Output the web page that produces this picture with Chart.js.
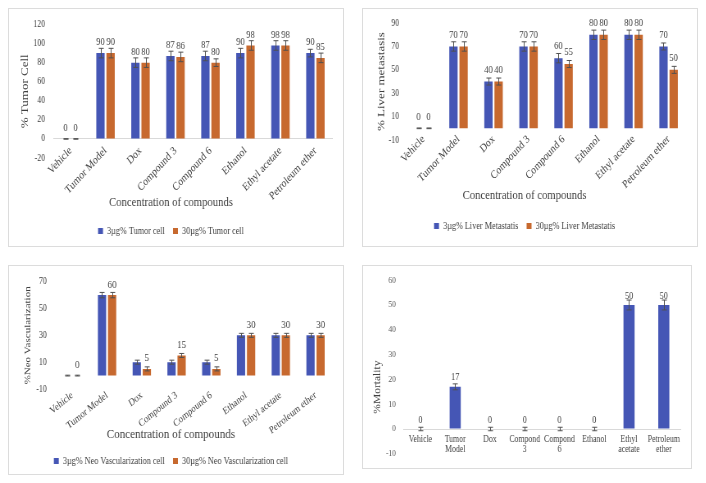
<!DOCTYPE html>
<html>
<head>
<meta charset="utf-8">
<script src="https://cdn.jsdelivr.net/npm/chart.js@4.4.1/dist/chart.umd.min.js"></script>
<style>
  body { margin: 0; background: #fff; width: 706px; height: 483px; position: relative; overflow: hidden; }
  .panel { position: absolute; box-sizing: border-box; border: 1px solid #dcdcdc; background: #fff; overflow: hidden; }
  .panel canvas { position: absolute; left: 0; top: 0; transform-origin: 0 0; transform: scaleX(0.82); }
</style>
</head>
<body>
<div class="panel" style="left:8px;top:8px;width:336px;height:239px"><canvas id="tumorChart" width="407" height="237" style="width:407px;height:237px"></canvas></div>
<div class="panel" style="left:362px;top:8px;width:336px;height:239px"><canvas id="liverChart" width="407" height="237" style="width:407px;height:237px"></canvas></div>
<div class="panel" style="left:8px;top:265px;width:336px;height:210px"><canvas id="neoChart" width="407" height="208" style="width:407px;height:208px"></canvas></div>
<div class="panel" style="left:362px;top:265px;width:330px;height:204px"><canvas id="mortalityChart" width="400" height="202" style="width:400px;height:202px"></canvas></div>
<script>
const categories = ['Vehicle', 'Tumor Model', 'Dox', 'Compound 3', 'Compound 6', 'Ethanol', 'Ethyl acetate', 'Petroleum ether'];
const mortalityCategories = ['Vehicle', ['Tumor', 'Model'], 'Dox', ['Compond', '3'], ['Compond', '6'], 'Ethanol', ['Ethyl', 'acetate'], ['Petroleum', 'ether']];

const tumor3 = [0, 90, 80, 87, 87, 90, 98, 90];
const tumor30 = [0, 90, 80, 86, 80, 98, 98, 85];
const tumor3Err = [0.3, 5, 5, 5, 5, 5, 5, 4];
const tumor30Err = [0.3, 5, 5, 5, 4, 5, 5, 5];

const liver3 = [0, 70, 40, 70, 60, 80, 80, 70];
const liver30 = [0, 70, 40, 70, 55, 80, 80, 50];
const liver3Err = [0.3, 4, 3, 4, 4, 4, 4, 3];
const liver30Err = [0.3, 4, 3, 4, 3, 4, 4, 3];

const neo3 = [0, 60, 10, 10, 10, 30, 30, 30];
const neo30 = [0, 60, 5, 15, 5, 30, 30, 30];
const neo3Err = [0.3, 2, 1.5, 1.5, 1.5, 1.5, 1.5, 1.5];
const neo30Err = [0.3, 2, 1.5, 1.5, 1.5, 1.5, 1.5, 1.5];

const mortality = [0, 17, 0, 0, 0, 0, 50, 50];
const mortalityErr = [0.7, 1.2, 0.7, 0.7, 0.7, 0.7, 2, 2];

const BLUE = '#4556B5';
const ORANGE = '#C7692F';
const TXT = '#404040';
const SERIF = "'Liberation Serif', 'Times New Roman', serif";

const errorBars = {
  id: 'errorBars',
  afterDatasetsDraw(chart) {
    const { ctx } = chart;
    const y = chart.scales.y;
    ctx.save();
    ctx.strokeStyle = '#505050';
    ctx.lineWidth = 1;
    chart.data.datasets.forEach((ds, i) => {
      chart.getDatasetMeta(i).data.forEach((bar, j) => {
        const v = ds.data[j], e = ds.errors[j];
        const top = y.getPixelForValue(v + e), bot = y.getPixelForValue(v - e);
        const x = Math.round(bar.x) + 0.5;
        ctx.beginPath();
        ctx.moveTo(x, top); ctx.lineTo(x, bot);
        ctx.moveTo(x - 3, top); ctx.lineTo(x + 3, top);
        ctx.moveTo(x - 3, bot); ctx.lineTo(x + 3, bot);
        ctx.stroke();
      });
    });
    ctx.restore();
  }
};

const valueLabels = {
  id: 'valueLabels',
  afterDatasetsDraw(chart, args, opts) {
    const { ctx } = chart;
    ctx.save();
    ctx.font = opts.size + 'px ' + SERIF;
    ctx.fillStyle = TXT;
    ctx.textAlign = 'center';
    ctx.textBaseline = 'middle';
    chart.data.datasets.forEach((ds, i) => {
      if (!ds.showLabels) return;
      chart.getDatasetMeta(i).data.forEach((bar, j) => {
        ctx.fillText(String(ds.data[j]), bar.x, bar.y - opts.offset);
      });
    });
    ctx.restore();
  }
};

function series(label, data, errors, color, showLabels, barPct, catPct) {
  return { label: label, data: data, errors: errors, backgroundColor: color, borderWidth: 0,
    showLabels: showLabels, barPercentage: barPct, categoryPercentage: catPct };
}

function buildChart(id, p) {
  const legend = p.legend ? {
    display: true, position: 'bottom', weight: 3000, maxHeight: p.legendHeight,
    labels: { boxWidth: 6, boxHeight: 6, padding: 10, color: TXT, font: { family: SERIF, size: 10 } }
  } : { display: false };
  const title = p.xTitle ? {
    display: true, position: 'bottom', text: p.xTitle, color: TXT,
    font: { family: SERIF, size: p.xTitleSize, weight: 'normal' }, padding: p.xTitlePad
  } : { display: false };
  return new Chart(document.getElementById(id), {
    type: 'bar',
    data: { labels: p.labels, datasets: p.datasets },
    options: {
      responsive: false, animation: false, devicePixelRatio: 1,
      layout: { padding: { left: 0, right: p.padRight, top: p.padTop, bottom: p.padBottom } },
      plugins: {
        legend: legend,
        title: title,
        tooltip: { enabled: false },
        valueLabels: { size: p.labelSize, offset: p.labelOffset }
      },
      scales: {
        x: {
          position: { y: p.xAxisAt },
          grid: { display: false, drawTicks: false },
          border: { display: false },
          ticks: { color: TXT, font: { family: SERIF, size: p.xTickSize, lineHeight: 1 }, maxRotation: p.rot, minRotation: p.rot,
            padding: p.xTickPad, autoSkip: false }
        },
        y: {
          min: p.yMin, max: p.yMax,
          ticks: { stepSize: p.yStep, color: p.yTickColor || TXT, font: { family: SERIF, size: p.yTickSize }, padding: p.yTickPad },
          grid: { drawTicks: false, lineWidth: 1, color: c => (c.tick && c.tick.value === 0 ? '#d9d9d9' : 'rgba(0,0,0,0)') },
          border: { display: false },
          title: { display: true, text: p.yTitle, color: TXT, font: { family: SERIF, size: p.yTitleSize }, padding: { top: p.yTitlePad, bottom: 0 } },
          afterFit: s => { s.width = p.plotLeft; }
        }
      }
    },
    plugins: [errorBars, valueLabels]
  });
}

buildChart('tumorChart', {
  labels: categories,
  datasets: [
    series('3µg% Tumor cell', tumor3, tumor3Err, BLUE, true, 0.82, 0.58),
    series('30µg% Tumor cell', tumor30, tumor30Err, ORANGE, true, 0.82, 0.58)
  ],
  yMin: -20, yMax: 120, yStep: 20, yTitle: '% Tumor Cell', yTitleSize: 13, yTitlePad: 11.7,
  yTickSize: 9.5, yTickPad: 9.8, plotLeft: 53.7,
  xAxisAt: 0, rot: 42, xTickSize: 11.5, xTickPad: 6,
  xTitle: 'Concentration of compounds', xTitleSize: 13, xTitlePad: { top: 37.2, bottom: 5.2 },
  legend: true, legendHeight: 30,
  padTop: 13, padRight: 12, padBottom: 0,
  labelSize: 10.5, labelOffset: 10.5
});

buildChart('liverChart', {
  labels: categories,
  datasets: [
    series('3µg% Liver Metastatis', liver3, liver3Err, BLUE, true, 0.82, 0.58),
    series('30µg% Liver Metastatis', liver30, liver30Err, ORANGE, true, 0.82, 0.58)
  ],
  yMin: -10, yMax: 90, yStep: 10, yTitle: '% Liver metastasis', yTitleSize: 13, yTitlePad: 15.2,
  yTickSize: 9.5, yTickPad: 8.4, plotLeft: 52.4,
  xAxisAt: 0, rot: 42, xTickSize: 11.5, xTickPad: 5,
  xTitle: 'Concentration of compounds', xTitleSize: 13, xTitlePad: { top: 48.2, bottom: 7.2 },
  legend: true, legendHeight: 30,
  padTop: 13, padRight: 13, padBottom: 5,
  labelSize: 10.5, labelOffset: 11.5
});

buildChart('neoChart', {
  labels: categories,
  datasets: [
    series('3µg% Neo Vascularization cell', neo3, neo3Err, BLUE, false, 0.82, 0.58),
    series('30µg% Neo Vascularization cell', neo30, neo30Err, ORANGE, true, 0.82, 0.58)
  ],
  yMin: -10, yMax: 70, yStep: 10, yTitle: '%Neo Vascularization', yTitleSize: 11, yTitlePad: 16.4,
  yTickSize: 9.5, yTickPad: 10, plotLeft: 56,
  xAxisAt: -10, rot: 34, xTickSize: 10.5, xTickPad: 1,
  xTitle: 'Concentration of compounds', xTitleSize: 13.5, xTitlePad: { top: 36.9, bottom: 3.9 },
  legend: true, legendHeight: 28,
  padTop: 9, padRight: 12, padBottom: 0,
  labelSize: 11, labelOffset: 10.5
});

buildChart('mortalityChart', {
  labels: mortalityCategories,
  datasets: [
    series('%Mortality', mortality, mortalityErr, BLUE, true, 0.4, 0.8)
  ],
  yMin: -10, yMax: 60, yStep: 10, yTitle: '%Mortality              ', yTitleSize: 11.5, yTitlePad: 11.4,
  yTickSize: 9, yTickPad: 8.8, plotLeft: 48.8, yTickColor: '#555555',
  xAxisAt: 0, rot: 0, xTickSize: 9.5, xTickPad: 6,
  xTitle: null, legend: false,
  padTop: 10, padRight: 12, padBottom: 10,
  labelSize: 10, labelOffset: 9
});
</script>
</body>
</html>
